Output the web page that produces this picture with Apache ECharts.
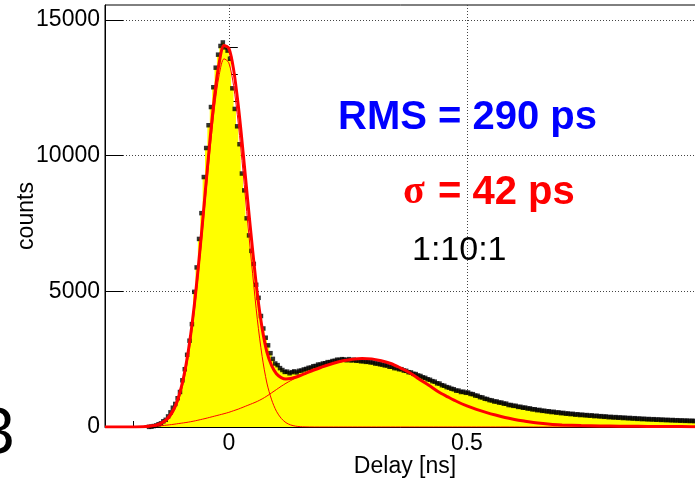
<!DOCTYPE html>
<html><head><meta charset="utf-8">
<script src="https://cdn.jsdelivr.net/npm/echarts@6/dist/echarts.min.js"></script>
<style>html,body{margin:0;padding:0;background:#fff}#c{width:695px;height:482px}</style>
</head><body><div id="c"></div>
<script>
// Histogram binning (ns)
const binStart = -0.26;
const binWidth = 0.005;
// Counts per bin
const counts = [
0,0,0,0,0,0,0,0,0,0,
0,0,0,0,0,0,0,0,5,12,
35,55,100,135,210,265,390,540,710,850,
1060,1290,1720,2130,2660,3180,3790,4980,5880,6930,
7880,9210,10280,11120,11790,12520,13240,13720,14040,14170,
13990,13870,13570,12480,11720,11080,10420,9340,8720,7690,
7060,6490,6010,5240,4760,4090,3630,3290,3010,2720,
2510,2340,2280,2170,2100,2030,2040,1980,2020,2050,
2010,2070,2080,2120,2140,2180,2190,2240,2250,2300,
2300,2340,2350,2390,2390,2430,2440,2480,2470,2500,
2490,2460,2500,2450,2480,2440,2450,2420,2430,2400,
2410,2380,2380,2340,2340,2310,2300,2270,2270,2220,
2220,2170,2170,2130,2130,2080,2070,2020,2010,1960,
1950,1900,1880,1830,1810,1760,1740,1690,1670,1610,
1600,1540,1520,1470,1450,1410,1390,1340,1340,1290,
1300,1260,1270,1220,1210,1160,1150,1100,1090,1040,
1030,990,980,940,940,900,900,860,860,810,
810,780,780,740,745,710,715,680,685,650,
655,620,630,595,600,575,580,550,560,530,
540,510,520,490,500,475,485,455,470,440,
455,430,440,415,430,400,415,390,400,375,
390,360,375,350,365,340,355,330,345,320,
335,310,325,300,315,290,305,282,295,276,
288,268,280,260,272,252,265,245,258,240,
250,232,244,226,238,220,232,215,226,210,
220,205
];
const fitX = [
-0.26,-0.22,-0.18,-0.16,-0.15,-0.14,-0.13,-0.12,-0.11,-0.10,
-0.09,-0.08,-0.07,-0.06,-0.05,-0.04,-0.03,-0.02,-0.01,0.00,
0.01,0.02,0.03,0.04,0.05,0.06,0.07,0.08,0.09,0.10,
0.11,0.12,0.13,0.14,0.15,0.16,0.18,0.20,0.22,0.24,
0.26,0.28,0.30,0.32,0.34,0.36,0.38,0.40,0.42,0.44,
0.46,0.48,0.50,0.52,0.54,0.56,0.58,0.60,0.62,0.64,
0.66,0.68,0.70,0.74,0.78,0.82,0.86,0.90,0.95,1.00
];
const fitTotal = [
0,0,9,44,89,164,297,520,887,1451,
2276,3414,4880,6633,8559,10486,12187,13437,14057,13960,
13178,11827,10122,8284,6520,4895,3635,2760,2260,1960,
1820,1770,1785,1832,1898,1970,2110,2240,2350,2440,
2500,2525,2510,2440,2340,2180,2000,1760,1540,1300,
1110,930,780,650,540,440,350,280,220,165,
125,95,75,55,40,30,25,20,15,12
];
const fitPeak = [
0,0,4,24,54,114,227,430,772,1311,
2111,3219,4650,6363,8249,10131,11787,12992,13567,13420,
12578,11167,9392,7484,5650,3950,2600,1620,1000,580,
320,160,75,32,13,5,0,0,0,0,
0,0,0,0,0,0,0,0,0,0,
0,0,0,0,0,0,0,0,0,0,
0,0,0,0,0,0,0,0,0,0
];
const fitBroad = [
0,0,5,20,35,50,70,90,115,140,
165,195,230,270,310,355,400,445,490,540,
600,660,730,800,870,945,1035,1140,1260,1380,
1500,1610,1710,1800,1885,1965,2110,2240,2350,2440,
2500,2525,2510,2440,2340,2180,2000,1760,1540,1300,
1110,930,780,650,540,440,350,280,220,165,
125,95,75,55,40,30,25,20,15,12
];
// Axis ticks
const xMajorTicks = [0, 0.5, 1];
const xMinorTicks = [-0.2, -0.1, 0.1, 0.2, 0.3, 0.4, 0.6, 0.7, 0.8, 0.9];
const yMajorTicks = [0, 5000, 10000, 15000];
const yMinorTicks = [1000, 2000, 3000, 4000, 6000, 7000, 8000, 9000, 11000, 12000, 13000, 14000];

const FONT = '"Liberation Sans", Arial, Helvetica, sans-serif';
const histPts = counts.map((c, i) => [binStart + binWidth * (i + 0.5), c]);
const markerPts = histPts.filter(p => p[1] > 0);
const pair = arr => fitX.map((x, i) => [x, arr[i]]);

const chart = echarts.init(document.getElementById('c'), null, { renderer: 'canvas' });
chart.setOption({
  animation: false,
  backgroundColor: '#fff',
  grid: { left: 105, top: 5, width: 600, height: 422, show: true, borderColor: '#000', borderWidth: 1,
          backgroundColor: 'transparent', containLabel: false, outerBoundsMode: 'none' },
  xAxis: [
    {
      type: 'value', min: -0.26, max: 1.0, position: 'bottom',
      axisLine: { show: true, onZero: false, lineStyle: { color: '#000', width: 1 } },
      axisTick: { show: true, inside: true, length: 12, customValues: xMajorTicks, lineStyle: { color: '#000' } },
      axisLabel: { customValues: xMajorTicks, formatter: v => String(v), fontSize: 23, color: '#000', fontFamily: FONT, margin: 5 },
      splitLine: { show: true, lineStyle: { color: '#444', type: [1, 2], width: 1 } },
      name: 'Delay [ns]', nameLocation: 'middle', nameGap: 28, nameMoveOverlap: false,
      nameTextStyle: { fontSize: 23, color: '#000', fontFamily: FONT }
    },
    {
      type: 'value', min: -0.26, max: 1.0, position: 'bottom',
      axisLine: { show: false },
      axisTick: { show: true, inside: true, length: 6, customValues: xMinorTicks, lineStyle: { color: '#000' } },
      axisLabel: { show: false }, splitLine: { show: false }
    }
  ],
  yAxis: [
    {
      type: 'value', min: 0, max: 15550, position: 'left',
      axisLine: { show: true, onZero: false, lineStyle: { color: '#000', width: 1 } },
      axisTick: { show: true, inside: true, length: 18, customValues: yMajorTicks, lineStyle: { color: '#000' } },
      axisLabel: { customValues: yMajorTicks, formatter: v => String(v), fontSize: 23, color: '#000', fontFamily: FONT, margin: 5 },
      splitLine: { show: true, lineStyle: { color: '#444', type: [1, 2], width: 1 } },
      name: 'counts', nameLocation: 'middle', nameGap: 67, nameMoveOverlap: false,
      nameTextStyle: { fontSize: 23, color: '#000', fontFamily: FONT }
    },
    {
      type: 'value', min: 0, max: 15550, position: 'left',
      axisLine: { show: false },
      axisTick: { show: true, inside: true, length: 9, customValues: yMinorTicks, lineStyle: { color: '#000' } },
      axisLabel: { show: false }, splitLine: { show: false }
    }
  ],
  series: [
    { type: 'line', data: histPts, step: 'middle', symbol: 'none', lineStyle: { width: 0, color: '#ffff00' },
      areaStyle: { color: '#ffff00', opacity: 1 }, silent: true, z: 1 },
    { type: 'scatter', data: markerPts, symbol: 'rect', symbolSize: 4.5, itemStyle: { color: '#000' }, silent: true, z: 2 },
    { type: 'line', data: pair(fitPeak), smooth: 0.3, symbol: 'none', lineStyle: { color: '#ff0000', width: 1 }, silent: true, z: 3 },
    { type: 'line', data: pair(fitBroad), smooth: 0.3, symbol: 'none', lineStyle: { color: '#ff0000', width: 1 }, silent: true, z: 3 },
    { type: 'line', data: pair(fitTotal), smooth: 0.3, symbol: 'none', lineStyle: { color: '#ff0000', width: 3 }, silent: true, z: 4 }
  ],
  graphic: [
    { type: 'text', x: 338, y: 118, z: 10, style: { text: 'RMS = 290 ps', fill: '#0000ff', fontSize: 40, fontWeight: 'bold', fontFamily: FONT, align: 'left', verticalAlign: 'middle' } },
    { type: 'text', x: 403, y: 193, z: 10, style: { text: 'σ', fill: '#ff0000', fontSize: 40, fontWeight: 'bold', fontFamily: '"Liberation Serif", "DejaVu Serif", serif', align: 'left', verticalAlign: 'middle' } },
    { type: 'text', x: 438, y: 193, z: 10, style: { text: '= 42 ps', fill: '#ff0000', fontSize: 40, fontWeight: 'bold', fontFamily: FONT, align: 'left', verticalAlign: 'middle' } },
    { type: 'text', x: 412, y: 251, z: 10, style: { text: '1:10:1', fill: '#000', fontSize: 34, fontFamily: FONT, align: 'left', verticalAlign: 'middle' } },
    { type: 'text', x: -21, y: 435, z: 10, style: { text: '3', fill: '#000', fontSize: 64, fontFamily: FONT, align: 'left', verticalAlign: 'middle' } }
  ]
});
</script></body></html>
